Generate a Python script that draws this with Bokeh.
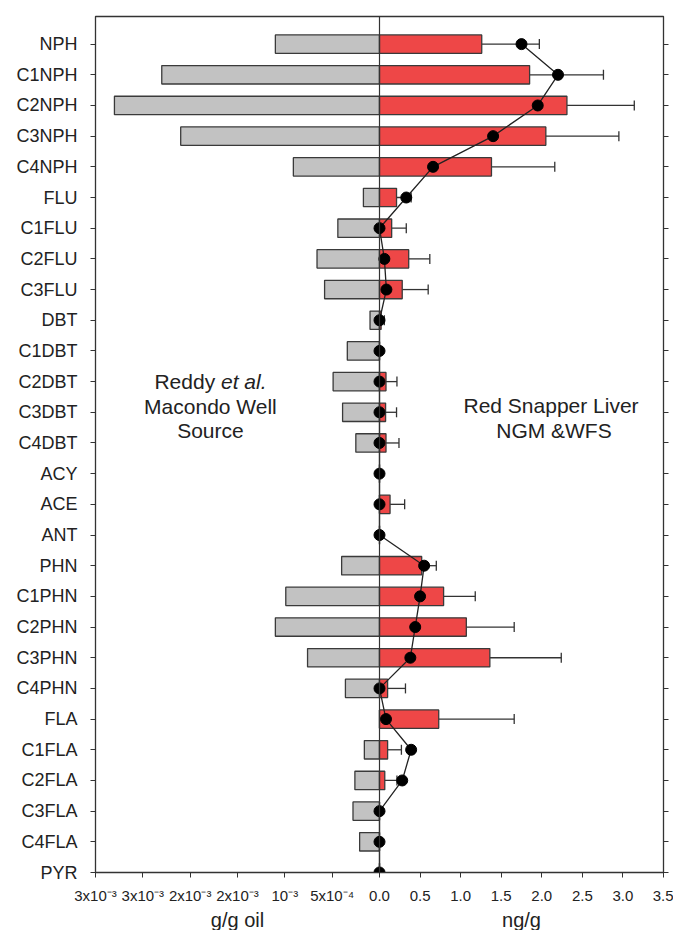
from bokeh.plotting import figure
from bokeh.layouts import column
from bokeh.models import (Range1d, FixedTicker, LinearAxis, Span, Label, Whisker,
                          TeeHead, ColumnDataSource)
from bokeh.core.properties import value
from bokeh.embed import file_html
from bokeh.resources import INLINE

# ---------------- data ----------------
categories = ["NPH", "C1NPH", "C2NPH", "C3NPH", "C4NPH", "FLU", "C1FLU", "C2FLU", "C3FLU",
              "DBT", "C1DBT", "C2DBT", "C3DBT", "C4DBT", "ACY", "ACE", "ANT", "PHN",
              "C1PHN", "C2PHN", "C3PHN", "C4PHN", "FLA", "C1FLA", "C2FLA", "C3FLA",
              "C4FLA", "PYR"]

# Reddy et al. Macondo Well source oil (g/g oil)
source_oil = [1.10e-3, 2.30e-3, 2.80e-3, 2.10e-3, 0.91e-3, 0.17e-3, 0.44e-3, 0.66e-3, 0.58e-3,
              0.10e-3, 0.34e-3, 0.49e-3, 0.39e-3, 0.25e-3, 0.0, 0.0, 0.0, 0.40e-3,
              0.99e-3, 1.10e-3, 0.76e-3, 0.36e-3, 0.0, 0.16e-3, 0.26e-3, 0.28e-3,
              0.21e-3, 0.0]

# Red snapper liver, NGM & WFS (ng/g): mean and error
liver_mean = [1.26, 1.85, 2.31, 2.05, 1.38, 0.21, 0.15, 0.36, 0.28,
              0.02, 0.0, 0.08, 0.075, 0.08, 0.0, 0.13, 0.0, 0.52,
              0.79, 1.07, 1.36, 0.10, 0.73, 0.10, 0.065, 0.0,
              0.0, 0.0]
liver_err = [0.71, 0.91, 0.83, 0.90, 0.78, 0.18, 0.18, 0.26, 0.32,
             0.04, 0.0, 0.135, 0.135, 0.16, 0.0, 0.18, 0.0, 0.18,
             0.39, 0.59, 0.88, 0.22, 0.93, 0.17, 0.15, 0.0,
             0.0, 0.0]

# profile line with dots (ng/g)
profile = [1.75, 2.20, 1.95, 1.40, 0.66, 0.33, 0.0, 0.06, 0.085,
           0.0, 0.0, 0.0, 0.0, 0.0, 0.0, 0.0, 0.0, 0.55,
           0.50, 0.44, 0.38, 0.0, 0.08, 0.39, 0.28, 0.0,
           0.0, 0.0]

left_tick_values = [3.0e-3, 2.5e-3, 2.0e-3, 1.5e-3, 1.0e-3, 5.0e-4]
left_tick_labels = ["3x10\u207b\u00b3", "3x10\u207b\u00b3", "2x10\u207b\u00b3",
                    "2x10\u207b\u00b3", "10\u207b\u00b3", "5x10\u207b\u2074"]
right_tick_values = [0.0, 0.5, 1.0, 1.5, 2.0, 2.5, 3.0, 3.5]
right_tick_labels = ["0.0", "0.5", "1.0", "1.5", "2.0", "2.5", "3.0", "3.5"]

left_unit_label = "g/g oil"
right_unit_label = "ng/g"

OIL_MAX = 3.0e-3
NG_MAX = 3.5
AX = 42  # common axis units for half-width

FONT = "Liberation Sans"
DARK = "#333333"
TXT = "#222222"

W = 673
BL, BR = 95, 10

n = len(categories)
ys = [n - 1 - i for i in range(n)]

src = ColumnDataSource(dict(
    y=ys, cat=categories,
    neg=[-v for v in source_oil],
    mean=liver_mean,
    prof=profile,
))
err_rows = [i for i in range(n) if liver_err[i] > 0]
esrc = ColumnDataSource(dict(
    y=[ys[i] for i in err_rows],
    lo=[liver_mean[i] for i in err_rows],
    hi=[liver_mean[i] + liver_err[i] for i in err_rows],
))

xr = Range1d(-AX, AX)
p = figure(width=W, height=908, output_backend="svg", toolbar_location=None,
           x_range=xr, y_range=Range1d(0, 27.9),
           min_border_left=BL, min_border_right=BR, min_border_top=16, min_border_bottom=36)
p.extra_x_ranges = {"oil": Range1d(-OIL_MAX, OIL_MAX), "ngg": Range1d(-NG_MAX, NG_MAX)}

p.xgrid.visible = False
p.ygrid.visible = False
p.outline_line_color = DARK
p.outline_line_width = 1.3
p.background_fill_color = "white"
p.border_fill_color = "white"

# bars
p.hbar(y="y", left="neg", right=0, height=0.6, source=src, x_range_name="oil",
       fill_color="#C2C2C2", line_color="#3a3a3a", line_width=1.3)
p.hbar(y="y", left=0, right="mean", height=0.6, source=src, x_range_name="ngg",
       fill_color="#EE4747", line_color="#3a3a3a", line_width=1.3)

# zero line
p.add_layout(Span(location=0, dimension="height", line_color=DARK, line_width=1.2))

# error bars
w = Whisker(source=esrc, base="y", lower="lo", upper="hi", dimension="width",
            x_range_name="ngg", line_color=DARK, line_width=1.3,
            upper_head=TeeHead(size=10, line_color=DARK, line_width=1.3),
            lower_head=None)
p.add_layout(w)

# profile line + dots
p.line(x="prof", y="y", source=src, x_range_name="ngg", line_color="#222222", line_width=1.3)
p.scatter(x="prof", y="y", source=src, x_range_name="ngg", size=11,
          fill_color="black", line_color="black")

# x axis ticks (common units)
ticks = [-round(AX * v / OIL_MAX) for v in left_tick_values] + \
        [round(AX * v / NG_MAX) for v in right_tick_values]
labels = left_tick_labels + right_tick_labels
xa = p.xaxis[0]
xa.ticker = FixedTicker(ticks=ticks)
xa.major_label_overrides = {t: l for t, l in zip(ticks, labels)}
xa.minor_tick_line_color = None
xa.major_tick_in = 0
xa.major_tick_out = 5
xa.major_tick_line_color = DARK
xa.axis_line_color = DARK
xa.major_label_text_font = FONT
xa.major_label_text_font_size = "15px"
xa.major_label_text_color = TXT
xa.major_label_standoff = 9

ya = p.yaxis[0]
ya.ticker = FixedTicker(ticks=ys)
ya.major_label_overrides = {y: c for y, c in zip(ys, categories)}
ya.minor_tick_line_color = None
ya.major_tick_in = 0
ya.major_tick_out = 5
ya.major_tick_line_color = DARK
ya.axis_line_color = DARK
ya.major_label_text_font = FONT
ya.major_label_text_font_size = "18px"
ya.major_label_text_color = TXT
ya.major_label_standoff = 13

ra = LinearAxis(ticker=FixedTicker(ticks=ys), major_label_text_color=None,
                major_label_standoff=0, major_tick_in=0, major_tick_out=5,
                minor_tick_line_color=None, major_tick_line_color=DARK,
                axis_line_color=DARK)
p.add_layout(ra, "right")

# annotations inside plot
def lab(x, y, text, size="21px", align="center", style="normal", xoff=0):
    p.add_layout(Label(x=x, y=y, text=text, text_font=FONT, text_font_size=size,
                       text_align=align, text_baseline="middle", text_font_style=style,
                       text_color=TXT, x_offset=xoff))

lab(-25.0, 15.99, "Reddy", align="right", xoff=4.7)
lab(-25.0, 15.99, "et al.", align="left", style="italic", xoff=10.5)
lab(-25.0, 15.18, "Macondo Well")
lab(-25.0, 14.42, "Source")
lab(25.8, 15.21, "Red Snapper  Liver")
lab(25.8, 14.42, "NGM &WFS")

# unit captions below the axis (separate strip sharing the x range)
cap = figure(width=W, height=22, output_backend="svg", toolbar_location=None,
             x_range=xr, y_range=Range1d(0, 1),
             min_border_left=BL, min_border_right=BR, min_border_top=0, min_border_bottom=0,
             x_axis_location=None, y_axis_location=None)
cap.outline_line_color = None
cap.xgrid.visible = False
cap.ygrid.visible = False
cap.text(x=[-21, 21], y=[0.5, 0.5], text=[left_unit_label, right_unit_label],
         text_font=value(FONT), text_font_size="20px", text_align="center",
         text_baseline="middle", text_color=TXT)

layout = column(p, cap, spacing=0)
open("out.html", "w").write(file_html(layout, INLINE))
